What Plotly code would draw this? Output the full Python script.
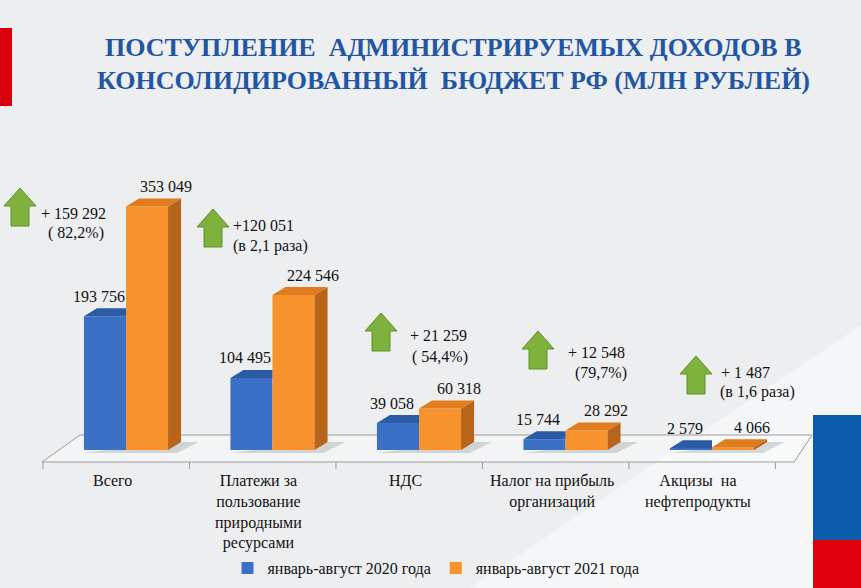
import plotly.graph_objects as go

# ── Data ─────────────────────────────────────────────────────────────────────
categories = ["Всего", "Платежи за<br>пользование<br>природными<br>ресурсами",
              "НДС", "Налог на прибыль<br>организаций", "Акцизы  на<br>нефтепродукты"]
values_2020 = [193756, 104495, 39058, 15744, 2579]
values_2021 = [353049, 224546, 60318, 28292, 4066]
change_abs = ["+ 159 292", "+120 051", "+ 21 259", "+ 12 548", "+ 1 487"]
change_rel = ["( 82,2%)", "(в 2,1 раза)", "( 54,4%)", "(79,7%)", "(в 1,6 раза)"]
series_names = ["январь-август 2020 года", "январь-август 2021 года"]

# ── Geometry / style ─────────────────────────────────────────────────────────
W, H = 861, 588
X0, XS = 126, 146.5          # pixel of x=0, pixels per category
Y0, YS = 450, 0.00069        # pixel of value 0, pixels per unit
BW = 0.287                   # bar width (category units)
DX, DY = 13 / XS, 8 / YS     # 3D depth offset
FONT = "Liberation Serif, Times New Roman, serif"

BLUE, BLUE_TOP = "#3A70C6", "#2C5BA6"
ORANGE, ORANGE_TOP, ORANGE_SIDE = "#F8922C", "#E07C1E", "#B8641A"


def fmt(v):
    return f"{v:,}".replace(",", " ")


def xp(p):
    return p / W


def yp(p):
    return 1 - p / H


def label(x, y, text, size=16, color="#111", **kw):
    return dict(x=xp(x), y=yp(y), xref="paper", yref="paper", text=text, showarrow=False,
                xanchor="center", yanchor="middle", font=dict(family=FONT, size=size, color=color), **kw)


xs = list(range(len(categories)))

fig = go.Figure()

# front faces
fig.add_trace(go.Bar(x=xs, y=values_2020, width=BW, offset=-BW, name=series_names[0],
                     marker=dict(color=BLUE, line=dict(width=0))))
fig.add_trace(go.Bar(x=xs, y=values_2021, width=BW, offset=0, name=series_names[1],
                     marker=dict(color=ORANGE, line=dict(width=0))))

# 3D tops and sides
for i, (b, o) in enumerate(zip(values_2020, values_2021)):
    fig.add_trace(go.Scatter(
        x=[i - BW, i, i, i - BW + DX, i - BW], y=[b, b, b + DY, b + DY, b],
        fill="toself", fillcolor=BLUE_TOP, mode="lines", line=dict(width=0),
        showlegend=False, hoverinfo="skip"))
    fig.add_trace(go.Scatter(
        x=[i + BW, i + BW, i + BW + DX, i + BW + DX, i + BW], y=[0, o, o + DY, DY, 0],
        fill="toself", fillcolor=ORANGE_SIDE, mode="lines", line=dict(width=0),
        showlegend=False, hoverinfo="skip"))
    fig.add_trace(go.Scatter(
        x=[i, i + BW, i + BW + DX, i + DX, i], y=[o, o, o + DY, o + DY, o],
        fill="toself", fillcolor=ORANGE_TOP, mode="lines", line=dict(width=0),
        showlegend=False, hoverinfo="skip"))

annotations = []

# title
annotations.append(label(453, 48, "<b>ПОСТУПЛЕНИЕ  АДМИНИСТРИРУЕМЫХ ДОХОДОВ В</b>", size=26, color="#1F57A4"))
annotations.append(label(453, 80, "<b>КОНСОЛИДИРОВАННЫЙ  БЮДЖЕТ РФ (МЛН РУБЛЕЙ)</b>", size=26, color="#1F57A4"))

# value labels
for i, (b, o) in enumerate(zip(values_2020, values_2021)):
    annotations.append(dict(x=i - BW / 2, y=b + DY, text=fmt(b), showarrow=False, xshift=-6, yshift=12,
                            font=dict(family=FONT, size=16, color="#111")))
    annotations.append(dict(x=i + BW / 2 + DX, y=o + DY, text=fmt(o), showarrow=False, xshift=6, yshift=12,
                            font=dict(family=FONT, size=16, color="#111")))

# category labels
for i, c in enumerate(categories):
    annotations.append(dict(x=i, y=yp(470), xref="x", yref="paper", text=c, showarrow=False,
                            xshift=-14, yanchor="top", align="center",
                            font=dict(family=FONT, size=16, color="#111")))

# change notes next to arrows (pixel positions)
arrow_pos = [(20, 188), (213, 209), (381, 313), (538, 331), (696, 356)]
note_pos = [((73, 213), (76, 233)), ((263, 225), (270, 246)), ((438, 335), (440, 357)),
            ((596, 352), (601, 373)), ((745, 372), (757, 392))]
for (a, r), ((ax, ay), (bx, by)) in zip(zip(change_abs, change_rel), note_pos):
    annotations.append(label(ax, ay, a))
    annotations.append(label(bx, by, r))

shapes = []

# background band
shapes.append(dict(type="path", xref="paper", yref="paper", layer="below",
                   path=f"M {xp(470)} {yp(588)} L {xp(861)} {yp(325)} L {xp(861)} {yp(588)} Z",
                   fillcolor="rgba(255,255,255,0.45)", line=dict(width=0)))

# left red strip, right flag blocks
shapes.append(dict(type="rect", xref="paper", yref="paper", x0=0, x1=xp(12), y0=yp(106), y1=yp(28),
                   fillcolor="#D8000C", line=dict(width=0)))
shapes.append(dict(type="rect", xref="paper", yref="paper", x0=xp(813), x1=1, y0=yp(540), y1=yp(415),
                   fillcolor="#0B5CAD", line=dict(width=0)))
shapes.append(dict(type="rect", xref="paper", yref="paper", x0=xp(813), x1=1, y0=0, y1=yp(540),
                   fillcolor="#E0000E", line=dict(width=0)))

# floor
fy, by_ = (Y0 - 462) / YS, (Y0 - 435) / YS
shapes.append(dict(type="path", xref="x", yref="y", layer="below",
                   path=f"M -0.573 {fy} L 4.56 {fy} L 4.683 {by_} L -0.314 {by_} Z",
                   fillcolor="rgba(255,255,255,0.35)", line=dict(color="#9A9A9A", width=1)))
for t in range(len(categories) + 1):
    tx = t - 0.567
    shapes.append(dict(type="line", xref="x", yref="y", x0=tx, x1=tx, y0=fy, y1=fy - 7 / YS,
                       line=dict(color="#9A9A9A", width=1)))

# soft shadows on the floor behind each bar pair
for i in xs:
    shapes.append(dict(type="path", xref="x", yref="y", layer="below",
                       path=f"M {i - BW} {-3 / YS} L {i + BW + 0.06} {-3 / YS} "
                            f"L {i + BW + DX + 0.12} {DY} L {i + BW} {DY} Z",
                       fillcolor="rgba(60,60,60,0.18)", line=dict(width=0)))

# green arrows
for ax, ay in arrow_pos:
    hw, hh, sw, sh = 16, 18, 9, 20
    pts = [(ax, ay), (ax + hw, ay + hh), (ax + sw, ay + hh), (ax + sw, ay + hh + sh),
           (ax - sw, ay + hh + sh), (ax - sw, ay + hh), (ax - hw, ay + hh)]
    path = "M " + " L ".join(f"{xp(px)} {yp(py)}" for px, py in pts) + " Z"
    shapes.append(dict(type="path", xref="paper", yref="paper", path=path,
                       fillcolor="#7FB23C", line=dict(color="#5F8F2A", width=1)))

fig.update_layout(
    width=W, height=H,
    margin=dict(l=0, r=0, t=0, b=0),
    paper_bgcolor="#EDEEF0", plot_bgcolor="rgba(0,0,0,0)",
    barmode="overlay",
    xaxis=dict(range=[-X0 / XS, (W - X0) / XS], visible=False, fixedrange=True),
    yaxis=dict(range=[(Y0 - H) / YS, Y0 / YS], visible=False, fixedrange=True),
    showlegend=True,
    legend=dict(orientation="h", x=xp(436), xanchor="center", y=yp(568), yanchor="middle",
                bgcolor="rgba(0,0,0,0)", font=dict(family=FONT, size=16, color="#111"),
                itemwidth=30, traceorder="normal"),
    annotations=annotations,
    shapes=shapes,
)

fig.write_html("out.html", config={"displayModeBar": False},
               post_script="document.body.style.margin='0';")
